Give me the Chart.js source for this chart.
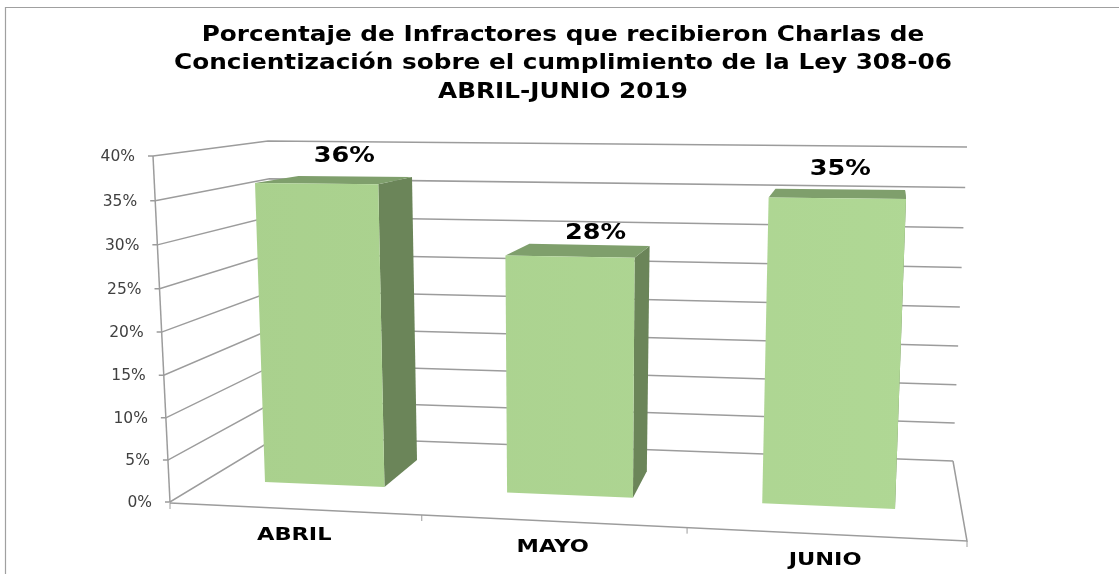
<!DOCTYPE html>
<html><head><meta charset="utf-8">
<style>html,body{margin:0;padding:0;background:#fff}#w{width:1119px;height:574px;position:relative}</style>
<script src="https://cdn.jsdelivr.net/npm/chart.js@4"></script>
</head><body><div id="w"><canvas id="c" width="1119" height="574"></canvas></div>
<script>
const categories = ['ABRIL','MAYO','JUNIO'];
const values = [36,28,35];
const titleLines = ['Porcentaje de Infractores que recibieron Charlas de','Concientización sobre el cumplimiento de la Ley 308-06','ABRIL-JUNIO 2019'];
const axisMax = 40, axisStep = 5;

// Perspective of the 3-D look: unit square (u = along categories, v = along value/depth) -> screen.
function homography(pairs){
  const A=[];
  pairs.forEach(([[s,t],[X,Y]])=>{
    A.push([s,t,1,0,0,0,-s*X,-t*X,X]);
    A.push([0,0,0,s,t,1,-s*Y,-t*Y,Y]);
  });
  for(let i=0;i<8;i++){
    let p=i; for(let r=i+1;r<8;r++) if(Math.abs(A[r][i])>Math.abs(A[p][i])) p=r;
    [A[i],A[p]]=[A[p],A[i]];
    for(let r=0;r<8;r++) if(r!==i){const f=A[r][i]/A[i][i]; for(let c=i;c<9;c++) A[r][c]-=f*A[i][c];}
  }
  const h=A.map((row,i)=>row[8]/row[i]);
  return (s,t)=>{const d=h[6]*s+h[7]*t+1; return [(h[0]*s+h[1]*t+h[2])/d,(h[3]*s+h[4]*t+h[5])/d];};
}
const backWall = homography([[[0,0],[279,436]],[[1,0],[953,461]],[[1,1],[967,147]],[[0,1],[268,141]]]);
const leftWall = homography([[[0,0],[170,502]],[[1,0],[279,436]],[[1,1],[268,141]],[[0,1],[153,156]]]);
const floorPlane = homography([[[0,0],[170,503]],[[1,0],[967,541]],[[1,1],[953,461]],[[0,1],[279,434]]]);
const barFront = homography([[[1/12,0],[265,482]],[[11/12,0],[895,509]],[[11/12,35/40],[906,199]],[[1/12,36/40],[255,183]]]);
const barBack = homography([[[3/12,0],[417,460]],[[11/12,0],[892,483]],[[11/12,35/40],[905,190]],[[3/12,36/40],[412,177]]]);
const labelNudge = [[-11,-20],[6,-12],[0,-20]];
const TITLE_STRETCH = 1.15, TITLE_CENTER = 563;

function line(ctx,pts,color,w){
  ctx.beginPath(); pts.forEach((p,i)=>i?ctx.lineTo(p[0],p[1]):ctx.moveTo(p[0],p[1]));
  ctx.strokeStyle=color; ctx.lineWidth=w; ctx.stroke();
}
function poly(ctx,pts,fill){
  ctx.beginPath(); pts.forEach((p,i)=>i?ctx.lineTo(p[0],p[1]):ctx.moveTo(p[0],p[1])); ctx.closePath();
  ctx.fillStyle=fill; ctx.fill();
}
function wideText(ctx,text,x,y,sx){
  ctx.save(); ctx.translate(x,y); ctx.scale(sx,1); ctx.fillText(text,0,0); ctx.restore();
}
const perspective = {
  id:'perspective',
  afterLayout(chart){
    const tb=chart.titleBlock;
    if(tb && !tb._wide){
      const orig=tb.draw;
      tb._wide=true;
      tb.draw=function(){
        const ctx=chart.ctx, c=this.left+this.width/2;
        ctx.save(); ctx.translate(TITLE_CENTER,0); ctx.scale(TITLE_STRETCH,1); ctx.translate(-c,0);
        orig.apply(this,arguments);
        ctx.restore();
      };
    }
  },
  beforeDatasetsDraw(chart){
    const ctx=chart.ctx, y=chart.scales.y, x=chart.scales.x, G='#9c9c9c';
    ctx.save();
    // outer frame
    line(ctx,[[5.5,574],[5.5,7.5],[1119,7.5]],'#a0a0a0',1.2);
    // walls from the value axis ticks
    y.ticks.forEach((t,i)=>{
      const v=(y.bottom-y.getPixelForTick(i))/y.height;
      const a=leftWall(0,v), b=leftWall(1,v), c=backWall(1,v);
      line(ctx,[[a[0]-5,a[1]],a,b,c],G,1.5);
    });
    line(ctx,[leftWall(0,0),leftWall(0,1)],G,1.5);
    // floor
    line(ctx,[floorPlane(0,0),floorPlane(1,0),floorPlane(1,1)],G,1.5);
    for(let i=0;i<=categories.length;i++){
      const p=floorPlane(i/categories.length,0);
      line(ctx,[p,[p[0],p[1]+6]],G,1);
    }
    // value axis labels
    ctx.font='15.5px "DejaVu Sans"'; ctx.fillStyle='#404040'; ctx.textAlign='right'; ctx.textBaseline='middle';
    y.ticks.forEach((t,i)=>{
      const v=(y.bottom-y.getPixelForTick(i))/y.height, a=leftWall(0,v);
      ctx.fillText(t.label,a[0]-18,a[1]+1);
    });
    // category labels
    ctx.font='bold 18px "DejaVu Sans"'; ctx.fillStyle='#000'; ctx.textAlign='center';
    categories.forEach((c,i)=>{
      const p=floorPlane((x.getPixelForValue(i)-x.left)/x.width,0);
      wideText(ctx,x.getLabelForValue(i),p[0],p[1]+26,1.25);
    });
    ctx.restore();
  },
  beforeDatasetDraw(chart,args){
    const ctx=chart.ctx, x=chart.scales.x, y=chart.scales.y;
    const U=p=>(p-x.left)/x.width, V=p=>(y.bottom-p)/y.height;
    ctx.save();
    const g=ctx.createLinearGradient(barFront(0,0)[0],0,barFront(1,0)[0],0);
    g.addColorStop(0,'#A9D08D'); g.addColorStop(1,'#B0D895');
    chart.getDatasetMeta(args.index).data.forEach((bar,i)=>{
      const p=bar.getProps(['x','y','width','base'],true);
      const l=U(p.x-p.width/2), r=U(p.x+p.width/2), t=V(p.y), b=V(p.base);
      const fl=barFront(l,t), fr=barFront(r,t), fbl=barFront(l,b), fbr=barFront(r,b);
      const bl=barBack(l,t), br=barBack(r,t), bbr=barBack(r,b);
      poly(ctx,[fr,br,bbr,fbr],'#6B8559');
      poly(ctx,[fl,bl,br,fr],'#7F9F6C');
      poly(ctx,[fl,fr,fbr,fbl],g);
      // value label
      ctx.font='bold 22px "DejaVu Sans"'; ctx.fillStyle='#000'; ctx.textAlign='center'; ctx.textBaseline='middle';
      const n=labelNudge[i];
      wideText(ctx,values[i]+'%',(bl[0]+br[0])/2+n[0],(bl[1]+br[1])/2+n[1],1.16);
    });
    ctx.restore();
    return false;
  }
};
new Chart(document.getElementById('c'),{
  type:'bar',
  data:{labels:categories,datasets:[{data:values,backgroundColor:'#AAD18D',barPercentage:0.5,categoryPercentage:1}]},
  plugins:[perspective],
  options:{
    responsive:false,animation:false,
    layout:{padding:{left:170,right:150,top:0,bottom:70}},
    plugins:{legend:{display:false},tooltip:{enabled:false},
      title:{display:true,text:titleLines,color:'#000',align:'center',position:'top',
        font:{family:'"DejaVu Sans"',size:21.5,weight:'bold',lineHeight:1.32},padding:{top:21,bottom:30}}},
    scales:{
      x:{grid:{display:false},border:{display:false},ticks:{display:false}},
      y:{min:0,max:axisMax,grid:{display:false},border:{display:false},
        ticks:{display:false,stepSize:axisStep,callback:v=>v+'%'}}
    }
  }
});
</script></body></html>
